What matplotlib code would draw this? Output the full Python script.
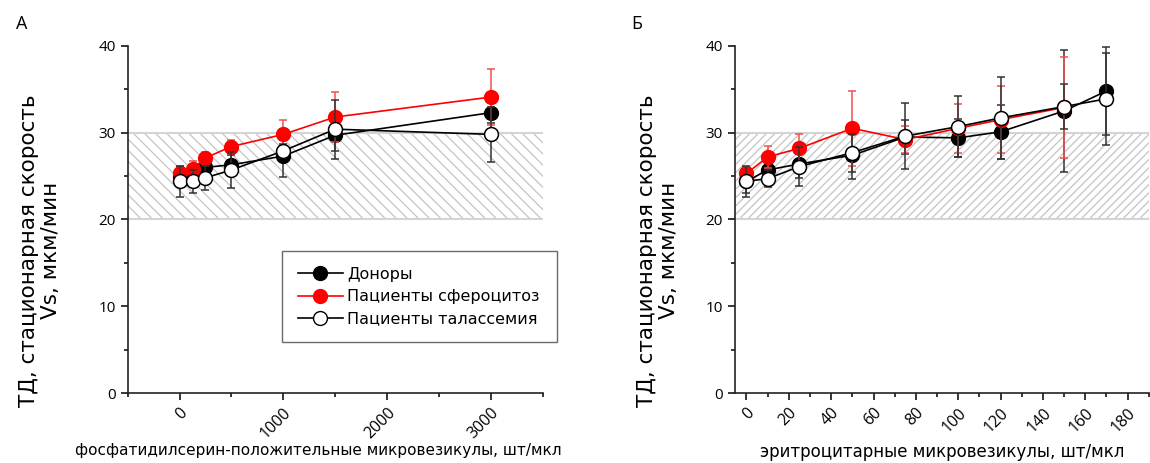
import numpy as np
import matplotlib
matplotlib.use('Agg')
import matplotlib.pyplot as plt
from matplotlib.ticker import MultipleLocator
from matplotlib.lines import Line2D

plt.rcParams['font.family'] = ['Open Sans', 'DejaVu Sans']
plt.rcParams['hatch.linewidth'] = 0.9

# панель А: фосфатидилсерин-положительные микровезикулы
xa = [0, 125, 250, 500, 1000, 1500, 3000]
donor_a = [25.0, 25.5, 26.0, 26.3, 27.3, 29.7, 32.3]
donor_a_err = [1.0, 0.9, 0.9, 1.1, 2.4, 1.8, 1.2]
sph_a = [25.4, 25.8, 27.1, 28.4, 29.8, 31.8, 34.1]
sph_a_err = [0.8, 0.9, 0.7, 0.8, 1.7, 2.9, 3.2]
thal_a = [24.4, 24.4, 24.8, 25.7, 27.9, 30.4, 29.8]
thal_a_err = [1.8, 1.3, 1.4, 2.1, 0.8, 3.4, 3.2]

# панель Б: эритроцитарные микровезикулы
xb = [0, 10, 25, 50, 75, 100, 120, 150, 170]
donor_b = [24.4, 25.7, 26.4, 27.4, 29.5, 29.4, 30.1, 32.5, 34.8]
donor_b_err = [1.3, 1.0, 1.6, 2.7, 2.0, 2.2, 3.1, 7.0, 5.1]
xb_sph = [0, 10, 25, 50, 75, 100, 120, 150]
sph_b = [25.3, 27.2, 28.2, 30.5, 29.2, 30.5, 31.5, 32.9]
sph_b_err = [0.8, 1.3, 1.7, 4.3, 1.6, 2.8, 3.9, 5.8]
thal_b = [24.4, 24.7, 26.1, 27.7, 29.6, 30.7, 31.7, 33.0, 33.9]
thal_b_err = [1.8, 1.0, 2.3, 2.2, 3.8, 3.5, 4.7, 2.6, 5.3]

labels = ['Доноры', 'Пациенты сфероцитоз', 'Пациенты талассемия']
ylab = 'ТД, стационарная скорость\nVs, мкм/мин'
wide = ['DejaVu Sans']

fig = plt.figure(figsize=(11.5, 4.63), dpi=100)
ax1 = fig.add_axes([0.111, 0.151, 0.361, 0.750])
ax2 = fig.add_axes([0.639, 0.151, 0.360, 0.750])

ms = 10


def draw(ax, xd, yd, ed, xs, ys, es, xt, yt, et, hatch):
    ax.axhspan(20, 30, facecolor='none', edgecolor='#c4c4c4', hatch=hatch,
               linewidth=0, zorder=0)
    ax.axhline(20, color='#d4d4d4', lw=1.5, zorder=0)
    ax.axhline(30, color='#d4d4d4', lw=1.5, zorder=0)
    ax.errorbar(xd, yd, yerr=ed, color='black', lw=1.2, marker='o', ms=ms,
                mfc='black', mec='black', ecolor='#333333', elinewidth=1.1,
                capsize=3, capthick=1.1, zorder=3)
    ax.errorbar(xs, ys, yerr=es, color='red', lw=1.2, marker='o', ms=ms,
                mfc='red', mec='red', ecolor='#f05050', elinewidth=1.1,
                capsize=3, capthick=1.1, zorder=4)
    ax.errorbar(xt, yt, yerr=et, color='black', lw=1.2, marker='o', ms=ms,
                mfc='white', mec='black', mew=1.1, ecolor='#333333',
                elinewidth=1.1, capsize=3, capthick=1.1, zorder=5)
    ax.set_ylim(0, 40)
    ax.yaxis.set_major_locator(MultipleLocator(10))
    ax.yaxis.set_minor_locator(MultipleLocator(5))
    for s in ['top', 'right']:
        ax.spines[s].set_visible(False)
    for s in ['left', 'bottom']:
        ax.spines[s].set_linewidth(1.2)
        ax.spines[s].set_color('#222222')
    ax.tick_params(which='major', length=5, width=1.1, direction='out',
                   labelsize=11)
    ax.tick_params(which='minor', length=3, width=1.1, direction='out')
    ax.set_ylabel(ylab, fontsize=15.5, linespacing=1.15, family=wide)


draw(ax1, xa, donor_a, donor_a_err, xa, sph_a, sph_a_err, xa, thal_a,
     thal_a_err, '\\\\\\')
ax1.set_xlim(-500, 3500)
ax1.xaxis.set_major_locator(MultipleLocator(1000))
ax1.xaxis.set_minor_locator(MultipleLocator(500))
plt.setp(ax1.get_xticklabels(), rotation=45, ha='right', rotation_mode='anchor',
         fontsize=11.5)
ax1.set_xlabel('фосфатидилсерин-положительные микровезикулы, шт/мкл',
               fontsize=11, family=wide)
ax1.xaxis.set_label_coords(0.46, -0.145)
ax1.yaxis.set_label_coords(-0.16, 0.41)

draw(ax2, xb, donor_b, donor_b_err, xb_sph, sph_b, sph_b_err, xb, thal_b,
     thal_b_err, '////')
ax2.set_xlim(-5.5, 190)
ax2.xaxis.set_major_locator(MultipleLocator(20))
ax2.xaxis.set_minor_locator(MultipleLocator(10))
plt.setp(ax2.get_xticklabels(), rotation=45, ha='right', rotation_mode='anchor',
         fontsize=11.5)
ax2.set_xlabel('эритроцитарные микровезикулы, шт/мкл', fontsize=12,
               family=wide)
ax2.xaxis.set_label_coords(0.5, -0.145)
ax2.yaxis.set_label_coords(-0.135, 0.41)

handles = [
    Line2D([], [], color='black', lw=1.2, marker='o', ms=ms, mfc='black', mec='black'),
    Line2D([], [], color='red', lw=1.2, marker='o', ms=ms, mfc='red', mec='red'),
    Line2D([], [], color='black', lw=1.2, marker='o', ms=ms, mfc='white', mec='black'),
]
leg_top = 1 - 251 / 463
leg = ax1.legend(handles, labels, loc='upper left',
                 bbox_to_anchor=(282 / 1150, leg_top - 0.1, 275 / 1150, 0.1),
                 mode='expand', bbox_transform=fig.transFigure,
                 prop={'family': wide, 'size': 11.5}, frameon=True,
                 fancybox=False, edgecolor='#444444', borderpad=1.0,
                 labelspacing=0.45, handlelength=2.8, handletextpad=0.3,
                 borderaxespad=0)
leg.get_frame().set_linewidth(1.0)

fig.text(22 / 1150, 1 - 24 / 463, 'А', fontsize=13, ha='center', va='center')
fig.text(637 / 1150, 1 - 24 / 463, 'Б', fontsize=13, ha='center', va='center')

fig.savefig('out.png', dpi=100)
